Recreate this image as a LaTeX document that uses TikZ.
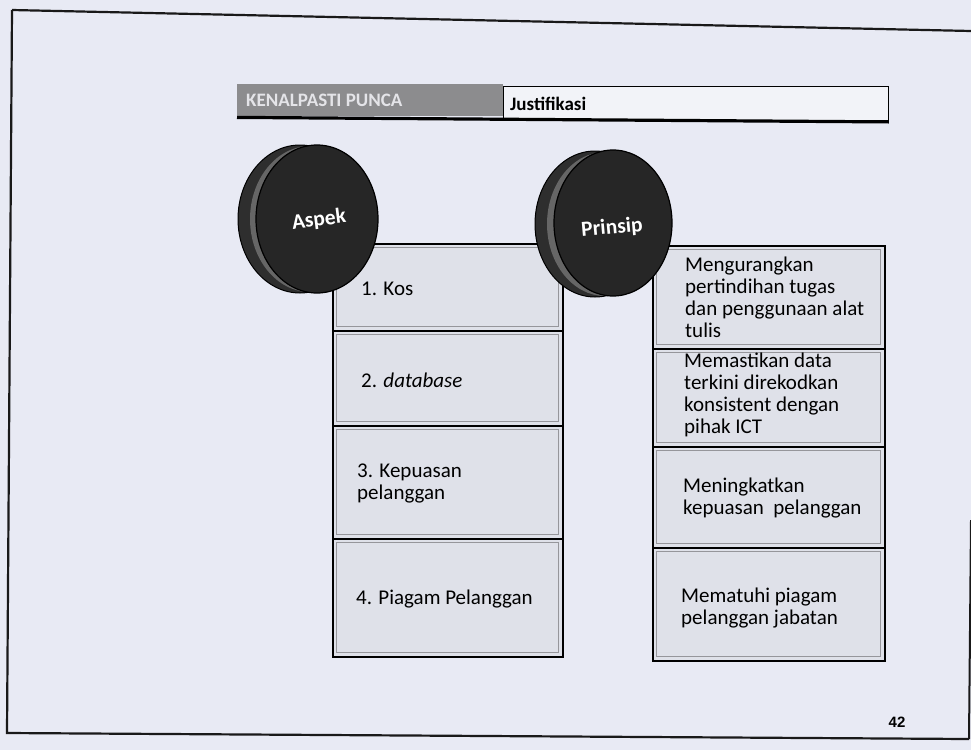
\documentclass[tikz,border=0pt]{standalone}
\usepackage{fontspec}
\usetikzlibrary{shapes.geometric}
\setmainfont{Carlito}
\newfontfamily\arialfont{Liberation Sans}
\definecolor{bg}{RGB}{232,234,244}
\definecolor{boxfill}{RGB}{223,225,233}
\definecolor{innerline}{RGB}{150,150,155}
\definecolor{hdrgray}{RGB}{140,140,142}
\definecolor{hdrtxt}{RGB}{228,228,232}
\definecolor{hdrwhite}{RGB}{242,243,248}
\definecolor{framecol}{RGB}{25,25,25}
\tikzset{
  cellbox/.style={draw=black, line width=1.6pt, fill=boxfill, inner sep=0pt, anchor=north west,
    path picture={\draw[innerline, line width=1.2pt]
      ([shift={(4pt,-4pt)}]path picture bounding box.north west) rectangle
      ([shift={(-4pt,4pt)}]path picture bounding box.south east);}},
  celltext/.style={anchor=west, align=left, inner sep=0pt, font=\fontsize{21}{22}\selectfont},
  disktext/.style={text=white, font=\fontsize{21.5}{24}\selectfont\bfseries, inner sep=0pt},
  diskpart/.style={ellipse, inner sep=0pt, draw=black},
}
\begin{document}
\begin{tikzpicture}[x=1pt,y=-1pt]
\useasboundingbox (0,0) rectangle (971,750);
\fill[bg] (0,0) rectangle (971,750);
% page frame
\draw[framecol, line width=2.2pt] (12,10) -- (971,31);
\draw[framecol, line width=2.2pt, line join=miter] (12,10) -- (7,733) -- (969,739);
\draw[framecol, line width=2pt] (971,520) -- (969,739);
% header bar
\node[fill=hdrgray, minimum width=266pt, minimum height=32pt, anchor=north west, inner sep=0pt] (kp) at (237,84) {};
\node[anchor=west, inner sep=0pt, text=hdrtxt, font=\fontsize{19}{22}\selectfont\bfseries] (kpt) at ([xshift=9pt]kp.west) {KENALPASTI PUNCA};
\node[fill=hdrwhite, draw=black, line width=0.9pt, minimum width=385pt, minimum height=34pt, anchor=north west, inner sep=0pt] (js) at (503,86) {};
\node[anchor=west, inner sep=0pt, font=\fontsize{19}{22}\selectfont\bfseries] (jst) at ([xshift=7pt]js.west) {Justifikasi};
\draw[line width=3.2pt] ([yshift=-1pt]kp.south west) -- ([yshift=-1pt]js.south east);
% left column
\node[cellbox, minimum width=230pt, minimum height=87pt] (a1) at (332,243) {};
\node[cellbox, minimum width=230pt, minimum height=95pt] (a2) at (332,330) {};
\node[cellbox, minimum width=230pt, minimum height=113pt] (a3) at (332,425) {};
\node[cellbox, minimum width=230pt, minimum height=118pt] (a4) at (332,538) {};
\node[celltext] (ta1) at ([xshift=29pt,yshift=-2pt]a1.west) {1. Kos};
\node[celltext] (ta2) at ([xshift=29pt,yshift=-2pt]a2.west) {2. \textit{database}};
\node[celltext] (ta3) at ([xshift=25pt,yshift=-1pt]a3.west) {3. Kepuasan\\pelanggan};
\node[celltext] (ta4) at ([xshift=24pt,yshift=-1pt]a4.west) {4. Piagam Pelanggan};
% right column
\node[cellbox, minimum width=232pt, minimum height=103pt] (b1) at (652,245) {};
\node[cellbox, minimum width=232pt, minimum height=98pt] (b2) at (652,348) {};
\node[cellbox, minimum width=232pt, minimum height=101pt] (b3) at (652,446) {};
\node[cellbox, minimum width=232pt, minimum height=113pt] (b4) at (652,547) {};
\node[celltext] (tb1) at ([xshift=33pt]b1.west) {Mengurangkan\\pertindihan tugas\\dan penggunaan alat\\tulis};
\node[celltext] (tb2) at ([xshift=32pt,yshift=3pt]b2.west) {Memastikan data\\terkini direkodkan\\konsistent dengan\\pihak ICT};
\node[celltext] (tb3) at ([xshift=31pt,yshift=-1pt]b3.west) {Meningkatkan\\kepuasan~ pelanggan};
\node[celltext] (tb4) at ([xshift=29pt,yshift=-4pt]b4.west) {Mematuhi piagam\\pelanggan jabatan};
% disks
\node[diskpart, fill=black!82, line width=1pt, minimum width=124pt, minimum height=148pt] (d1b) at (300,219) {};
\node[diskpart, fill=black!60, draw=none, minimum width=120pt, minimum height=146pt] (d1r) at (310,219) {};
\node[diskpart, fill=black!85, line width=1.2pt, minimum width=122pt, minimum height=148pt] (d1f) at (317,219) {};
\node[disktext, rotate=7] (asp) at (319,220) {Aspek};
\node[diskpart, fill=black!82, line width=1pt, minimum width=120pt, minimum height=146pt] (d2b) at (595,224) {};
\node[diskpart, fill=black!60, draw=none, minimum width=116pt, minimum height=144pt] (d2r) at (605,224) {};
\node[diskpart, fill=black!85, line width=1.2pt, minimum width=118pt, minimum height=146pt] (d2f) at (613,223) {};
\node[disktext, rotate=5] (prn) at (612,228) {Prinsip};
% page number
\node[font=\arialfont\bfseries\fontsize{15}{18}\selectfont, inner sep=0pt] (pg) at (897,722) {42};
\end{tikzpicture}
\end{document}
